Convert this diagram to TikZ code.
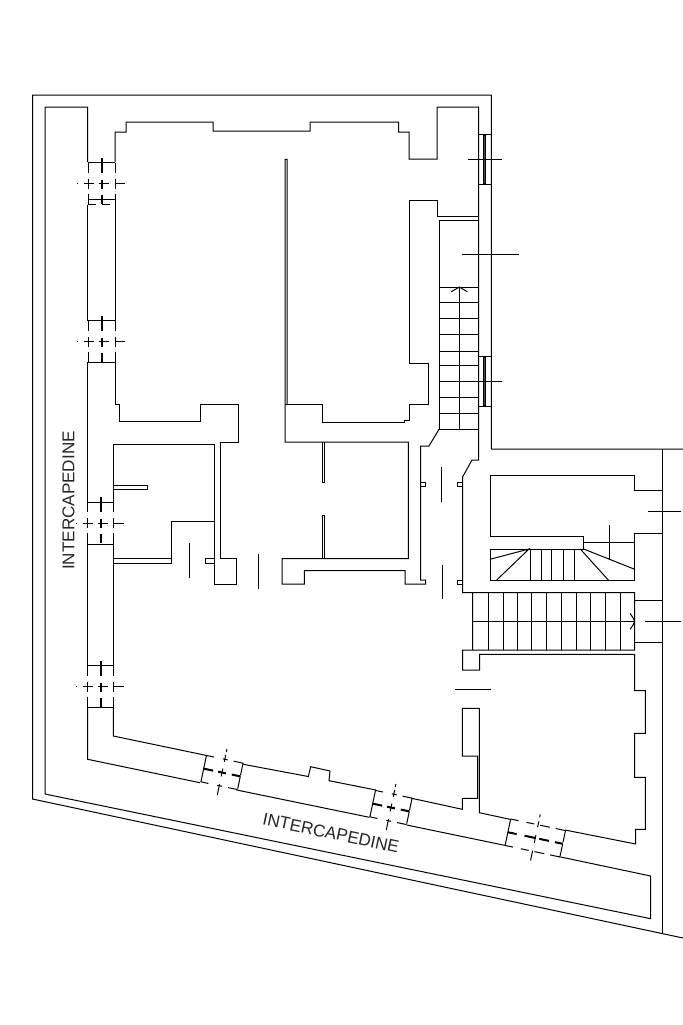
\documentclass[tikz,border=0pt]{standalone}
\usepackage{fontspec}
\setmainfont{Liberation Sans}
\tikzset{
  wl/.style={line width=0.5pt,black,line cap=butt,line join=miter},
  mull/.style={line width=1pt,black},
  lab/.style={inner sep=0pt,font=\fontsize{8.55}{10}\selectfont,text=black!85},
  leftwin/.style={rotate=-90,yscale=-1},
  botwin/.style={rotate=-11.9}
}
\def\wD{13.5}
% centre, placing style, half length, mullion list, wall list, cross line list, style of far cap
\newcommand\wallwin[7]{%
  \begin{scope}[shift={(#1)},#2]
    \draw[wl,#7] (#3,-\wD) -- (#3,\wD);
    \draw[wl] (-#3,-\wD) -- (-#3,\wD);
    \foreach \a/\b in {#5}{\draw[wl] (\a,-\wD) -- (\b,-\wD); \draw[wl] (\a,\wD) -- (\b,\wD);}
    \foreach \a/\b in {#4}{\draw[mull] (\a,0) -- (\b,0);}
    \foreach \a/\b in {#6}{\draw[wl] (0,\a) -- (0,\b);}
  \end{scope}}
\newcommand\leftpat[2]{\wallwin{#1}{leftwin}{21}{-26/-11,-4/5,11/20}{-21/-11,-5/5,10/21}{-25/-24.4,-18/-8,-3/7,13/23}{#2}}
\newcommand\botpat[1]{\wallwin{#1}{botwin}{18.7}{-19/-9,-4/4,10/19}{-18.7/-11,-2/3,9/18.7}{-24/-21,-18/-11,-4/4,12/23}{dash pattern=on 6pt off 1pt}}
\begin{document}
\begin{tikzpicture}[x=0.5pt,y=-0.5pt]
\fill[white] (0,0) rectangle (683,1025);
\useasboundingbox (0,0) rectangle (683,1025);
% outer boundary
\draw[wl] (683,449) -- (491.3,449) -- (491.3,95) -- (32.5,95) -- (32.5,799) -- (683,938);
\draw[wl] (662.3,449) -- (662.3,934);
% intercapedine outline and outer wall of left strip
\draw[wl] (87.7,162) -- (87.7,107) -- (45,107) -- (45,794) -- (650.7,918.7) -- (650.7,876) -- (559.3,856.7);
\draw[wl] (87.7,204.5) -- (87.7,320.7);
\draw[wl] (87.7,362.3) -- (87.7,502.7);
\draw[wl] (87.7,544) -- (87.7,665.7);
\draw[wl] (87.7,707.3) -- (87.7,759.3) -- (200,782.7);
\draw[wl] (236.7,790) -- (369.3,817.3);
\draw[wl] (406.7,825) -- (506.5,845.7);
% upper left room
\draw[wl] (115,162) -- (115,132) -- (126,132) -- (126,122) -- (213,122) -- (213,131) -- (310,131) -- (310,122) -- (398.7,122) -- (398.7,132) -- (409,132) -- (409,159) -- (437,159) -- (437,107) -- (478.7,107) -- (478.7,460) -- (472,460) -- (462.7,476.7) -- (462.7,592.7) -- (473,592.7);
\draw[wl] (115,204.5) -- (115,320.7);
\draw[wl] (115,362.3) -- (115,404.3) -- (119.7,404.3) -- (119.7,421.7) -- (200,421.7) -- (200,404.3) -- (238,404.3) -- (238,442) -- (220,442) -- (220,558.7) -- (236,558.7) -- (236,584) -- (214,584) -- (214,444) -- (113.3,444) -- (113.3,502.7);
\draw[wl] (113.3,544) -- (113.3,665.7);
\draw[wl] (113.3,707.3) -- (113.3,736) -- (206.7,755.5);
% south inner wall
\draw[wl] (243.3,764.3) -- (308.3,776.5) -- (310.7,766.7) -- (330,771) -- (329,780.7) -- (376,790);
\draw[wl] (411.7,798.3) -- (462.3,809.3) -- (462.3,798.3) -- (477.7,798.3) -- (477.7,756) -- (462.3,756) -- (462.3,708.3) -- (479.3,708.3) -- (479.3,812.7) -- (510,819.3);
\draw[wl] (565,830) -- (635.7,844) -- (635.7,829.3) -- (645.3,829.3) -- (645.3,777.3) -- (634.5,777.3) -- (634.5,733.3) -- (645.3,733.3) -- (645.3,690.7) -- (634.5,690.7) -- (634.5,654.3) -- (479.7,654.3) -- (479.7,670) -- (462.7,670) -- (462.7,650) -- (634.7,650) -- (634.7,592.7) -- (472.7,592.7) -- (472.7,650);
% left room details
\draw[wl] (113.3,485.7) -- (147.7,485.7) -- (147.7,489.7) -- (113.3,489.7);
\draw[wl] (214,521.3) -- (171.7,521.3) -- (171.7,563.3) -- (113.3,563.3);
\draw[wl] (113.3,558.7) -- (171.7,558.7);
\draw[wl] (214,558.7) -- (205.3,558.7) -- (205.3,563.3) -- (214,563.3);
\draw[wl] (189.7,543.3) -- (189.7,578.3);
\draw[wl] (258.7,554) -- (258.7,589);
% central partition and rooms
\draw[wl] (287,404.7) -- (287,159.3) -- (285.2,159.3) -- (285.2,442) -- (408.3,442) -- (408.3,558.7) -- (282,558.7) -- (282,584) -- (304.3,584) -- (304.3,570.7) -- (405,570.7) -- (405,584) -- (425.7,584) -- (425.7,580) -- (420.7,580) -- (420.7,446) -- (429,446) -- (439,429.3);
\draw[wl] (285,404.7) -- (322.3,404.7) -- (322.3,422.7) -- (404.3,422.7) -- (404.3,420.7) -- (409.3,420.7) -- (409.3,404.7) -- (428.5,404.7) -- (428.5,363.3) -- (409.3,363.3) -- (409.3,200.7) -- (437,200.7) -- (437,216) -- (478.7,216);
\draw[wl] (322.3,442) -- (322.3,482.3) -- (324.3,482.3) -- (324.3,442);
\draw[wl] (322.3,558.7) -- (322.3,515) -- (324.3,515) -- (324.3,558.7);
% corridor details
\draw[wl] (420.7,482) -- (425.7,482) -- (425.7,486.7) -- (420.7,486.7);
\draw[wl] (462.7,482) -- (457.7,482) -- (457.7,486.7) -- (462.7,486.7);
\draw[wl] (462.7,580) -- (457.7,580) -- (457.7,584) -- (462.7,584);
\draw[wl] (441.3,467) -- (441.3,501.7);
\draw[wl] (442.3,564.7) -- (442.3,599.3);
\draw[wl] (455,689.3) -- (490.7,689.3);
% north stair
\draw[wl] (478.7,220) -- (439.3,220) -- (439.3,429.3);
\foreach \sy in {287,302.3,318.7,334.3,351,365.7,381.3,397.3,413.3,429.3}{\draw[wl] (439.3,\sy) -- (478.7,\sy);}
\draw[wl] (459.3,429.3) -- (459.3,287);
\draw[wl] (451.3,291.7) -- (459.3,287) -- (467.3,291.7);
% east windows and section lines
\draw[wl] (478.7,134.3) -- (491.3,134.3);
\draw[wl] (478.7,184.3) -- (491.3,184.3);
\draw[wl,fill=black!70] (483.6,135) rectangle (485.2,183.3);
\draw[wl] (478.7,356.7) -- (491.3,356.7);
\draw[wl] (478.7,406) -- (491.3,406);
\draw[wl,fill=black!70] (483.6,357.5) rectangle (485.2,405.3);
\draw[wl] (467.7,159.3) -- (502.3,159.3);
\draw[wl] (478.7,381.3) -- (502.3,381.3);
\draw[wl] (462,254.7) -- (519,254.7);
% south-east stair room
\draw[wl] (490,549) -- (490,580) -- (634.7,580) -- (634.7,533.3) -- (662.3,533.3);
\draw[wl] (662.3,490.7) -- (634.7,490.7) -- (634.7,475.7) -- (490,475.7) -- (490,536.7) -- (583.7,536.7) -- (583.7,549) -- (490,549);
\draw[wl] (583.7,542.7) -- (634.7,542.7);
\draw[wl] (609,525.3) -- (609,559);
\foreach \sx in {530.7,541,551.7,563.7,574.3}{\draw[wl] (\sx,549) -- (\sx,580);}
\draw[wl] (490,559.3) -- (529,549) -- (496.7,580);
\draw[wl] (608.3,580) -- (580.3,549);
\draw[wl] (583.7,549) -- (634.7,569.3);
\foreach \sx in {488,503,517,531.7,546.7,561.7,576.3,590.3,605,620}{\draw[wl] (\sx,592.7) -- (\sx,650);}
\draw[wl] (472.7,621.3) -- (634.7,621.3);
\draw[wl] (630,613.3) .. controls (632,616) and (634,619) .. (634.7,621.3) .. controls (634,624) and (632,627) .. (630,629.3);
\draw[wl] (634.7,600.3) -- (662.3,600.3);
\draw[wl] (634.7,642.3) -- (662.3,642.3);
\draw[wl] (648.3,511.7) -- (680.7,511.7);
\draw[wl] (645,621.3) -- (680.7,621.3);
% wall openings, west side
\leftpat{101.5,183.5}{dash pattern=on 4pt off 3pt}
\draw[wl] (87.7,199.3) -- (115,199.3);
\leftpat{101.5,341.5}{solid}
\def\wD{12.8}
\leftpat{100.5,523.3}{solid}
\leftpat{100.5,686.5}{solid}
\def\wD{13.5}
% wall openings, south side
\botpat{222,772.5}
\botpat{391,807.5}
\wallwin{535.3,838}{botwin}{28}{-28/-19,-11/0,4/14,20/28}{-28/-20,-12/-4,2/12,18/28}{-24/-21,-17/-11,-3/5,13/23}{dash pattern=on 6pt off 1pt}
% labels
\node[lab,rotate=90] (labw) at (68.5,500.5) {INTERCAPEDINE};
\node[lab,rotate=-12] (labs) at (331,833) {INTERCAPEDINE};
\end{tikzpicture}
\end{document}
